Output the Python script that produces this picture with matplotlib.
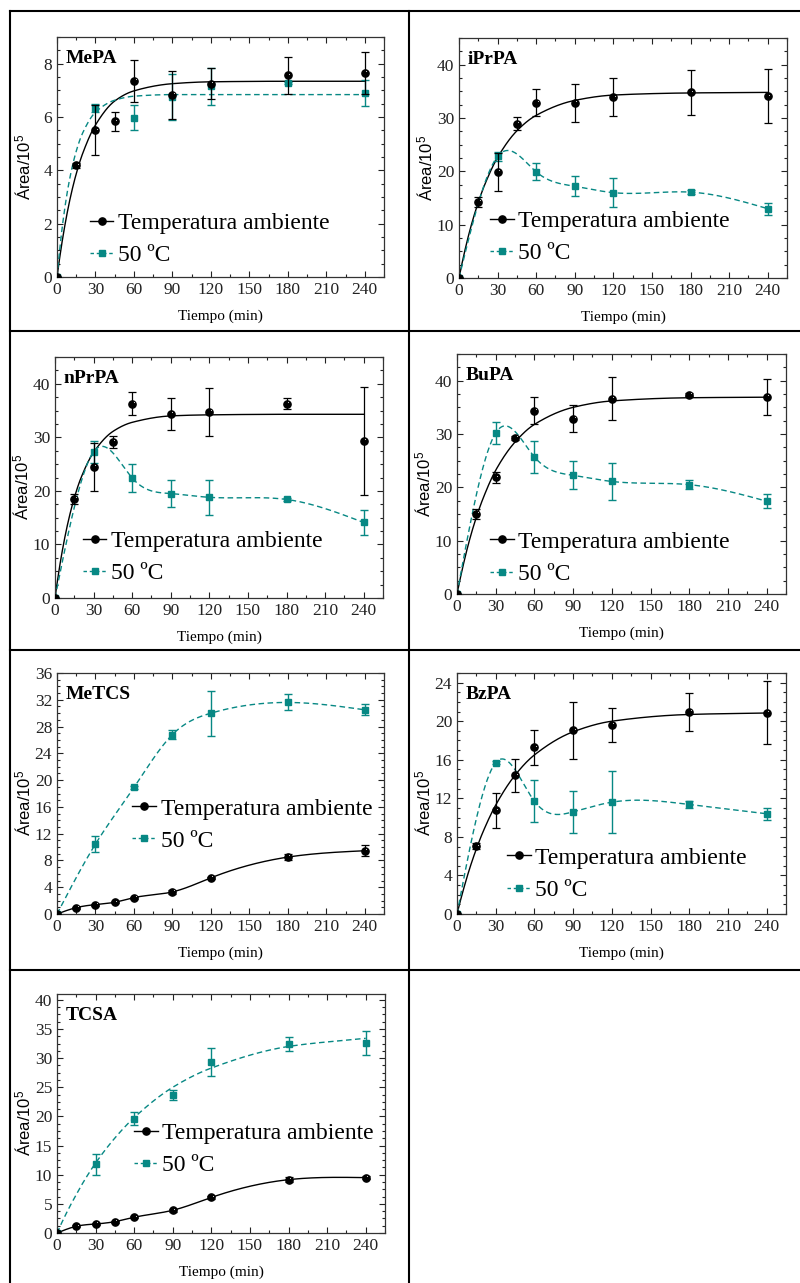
import numpy as np
import matplotlib
matplotlib.use("Agg")
import matplotlib.pyplot as plt
from matplotlib.ticker import MultipleLocator, AutoMinorLocator
from matplotlib.lines import Line2D
from matplotlib.transforms import offset_copy

plt.rcParams['font.family'] = ['Liberation Serif', 'DejaVu Serif']
plt.rcParams['mathtext.fontset'] = 'custom'
plt.rcParams['mathtext.rm'] = 'Liberation Sans'
plt.rcParams['mathtext.it'] = 'Liberation Sans:italic'

TEAL = '#078884'

# ---- sampling times (min) ----
t_amb = [0, 15, 30, 45, 60, 90, 120, 180, 240]
t_50 = [0, 30, 60, 90, 120, 180, 240]
t_fit = [0, 5, 10, 15, 20, 30, 45, 60, 90, 120, 180, 240]

# ---- MePA ----
mepa_amb = [0, 4.19, 5.50, 5.84, 7.35, 6.84, 7.25, 7.56, 7.65]
mepa_amb_err = [0, 0.10, 0.94, 0.35, 0.80, 0.90, 0.58, 0.69, 0.78]
mepa_50 = [0, 6.35, 5.98, 6.75, 7.15, 7.28, 6.91]
mepa_50_err = [0, 0.15, 0.48, 0.88, 0.69, 0.05, 0.49]
mepa_amb_fit = [0, 1.62, 2.89, 3.87, 4.63, 5.70, 6.60, 6.98, 7.25, 7.32, 7.34, 7.34]
mepa_50_fit = [0, 2.21, 3.71, 4.72, 5.40, 6.18, 6.63, 6.78, 6.84, 6.84, 6.84, 6.84]

# ---- iPrPA ----
iprpa_amb = [0, 14.3, 19.9, 28.9, 32.9, 32.8, 33.9, 34.8, 34.1]
iprpa_amb_err = [0, 0.9, 3.6, 1.2, 2.5, 3.5, 3.6, 4.2, 5.1]
iprpa_50 = [0, 22.8, 19.9, 17.2, 16.0, 16.1, 13.0]
iprpa_50_err = [0, 0.8, 1.6, 1.9, 2.7, 0.4, 1.1]
iprpa_amb_fit = [0, 5.6, 10.3, 14.2, 17.5, 22.6, 27.6, 30.5, 33.3, 34.3, 34.7, 34.8]

# ---- nPrPA ----
nprpa_amb = [0, 18.5, 24.5, 29.2, 36.3, 34.4, 34.8, 36.3, 29.3]
nprpa_amb_err = [0, 0.9, 4.5, 1.1, 2.2, 3.0, 4.5, 1.1, 10.1]
nprpa_50 = [0, 27.3, 22.4, 19.5, 18.8, 18.4, 14.1]
nprpa_50_err = [0, 2.0, 2.6, 2.5, 3.3, 0.3, 2.3]
nprpa_amb_fit = [0, 7.9, 14.0, 18.7, 22.3, 27.2, 31.1, 32.8, 34.0, 34.2, 34.3, 34.3]

# ---- BuPA ----
bupa_amb = [0, 15.0, 21.9, 29.25, 34.4, 32.9, 36.6, 37.4, 37.0]
bupa_amb_err = [0, 0.9, 1.0, 0.4, 2.5, 2.6, 4.0, 0.3, 3.4]
bupa_50 = [0, 30.2, 25.7, 22.25, 21.1, 20.5, 17.4]
bupa_50_err = [0, 2.1, 3.0, 2.65, 3.4, 0.85, 1.35]
bupa_amb_fit = [0, 5.6, 10.4, 14.4, 17.8, 23.2, 28.5, 31.8, 35.0, 36.2, 36.8, 36.9]

# ---- MeTCS ----
metcs_amb = [0, 0.95, 1.40, 1.75, 2.45, 3.30, 5.40, 8.50, 9.45]
metcs_amb_err = [0, 0.15, 0.15, 0.15, 0.15, 0.25, 0.20, 0.50, 0.80]
metcs_50 = [0, 10.45, 18.9, 26.8, 30.0, 31.6, 30.5]
metcs_50_err = [0, 1.15, 0.2, 0.65, 3.35, 1.2, 0.8]

# ---- BzPA ----
bzpa_amb = [0, 7.03, 10.77, 14.4, 17.3, 19.05, 19.6, 20.95, 20.9]
bzpa_amb_err = [0, 0.3, 1.8, 1.7, 1.8, 2.95, 1.75, 2.0, 3.25]
bzpa_50 = [0, 15.7, 11.7, 10.6, 11.6, 11.36, 10.4]
bzpa_50_err = [0, 0.15, 2.15, 2.2, 3.2, 0.35, 0.6]
bzpa_amb_fit = [0, 2.55, 4.8, 6.75, 8.47, 11.3, 14.4, 16.5, 18.9, 20.0, 20.7, 20.85]

# ---- TCSA ----
tcsa_amb = [0, 1.15, 1.55, 1.95, 2.7, 3.9, 6.1, 9.15, 9.5]
tcsa_amb_err = [0, 0.15, 0.15, 0.15, 0.2, 0.25, 0.25, 0.45, 0.2]
tcsa_50 = [0, 11.8, 19.6, 23.7, 29.3, 32.4, 32.65]
tcsa_50_err = [0, 1.8, 1.15, 0.85, 2.4, 1.25, 2.05]
tcsa_50_fit = [0, 2.37, 4.57, 6.6, 8.55, 12.0, 16.3, 19.8, 25.0, 28.3, 32.0, 33.4]


def natural_spline(x, y, xs):
    x = np.asarray(x, float); y = np.asarray(y, float)
    n = len(x); h = np.diff(x)
    A = np.zeros((n, n)); r = np.zeros(n)
    A[0, 0] = A[-1, -1] = 1.0
    for i in range(1, n - 1):
        A[i, i - 1] = h[i - 1]; A[i, i] = 2 * (h[i - 1] + h[i]); A[i, i + 1] = h[i]
        r[i] = 3 * ((y[i + 1] - y[i]) / h[i] - (y[i] - y[i - 1]) / h[i - 1])
    c = np.linalg.solve(A, r)
    b = np.diff(y) / h - h * (2 * c[:-1] + c[1:]) / 3
    d = np.diff(c) / (3 * h)
    k = np.clip(np.searchsorted(x, xs, side='right') - 1, 0, n - 2)
    dx = xs - x[k]
    return y[k] + b[k] * dx + c[k] * dx ** 2 + d[k] * dx ** 3


def pchip(x, y, xs):
    x = np.asarray(x, float); y = np.asarray(y, float)
    n = len(x); h = np.diff(x); dl = np.diff(y) / h
    m = np.zeros(n)
    for k in range(1, n - 1):
        if dl[k - 1] * dl[k] <= 0:
            m[k] = 0.0
        else:
            w1 = 2 * h[k] + h[k - 1]; w2 = h[k] + 2 * h[k - 1]
            m[k] = (w1 + w2) / (w1 / dl[k - 1] + w2 / dl[k])
    m0 = ((2 * h[0] + h[1]) * dl[0] - h[0] * dl[1]) / (h[0] + h[1])
    m[0] = m0 if np.sign(m0) == np.sign(dl[0]) else 0.0
    m[-1] = dl[-1] if dl[-1] * dl[-2] > 0 else 0.0
    k = np.clip(np.searchsorted(x, xs, side='right') - 1, 0, n - 2)
    t = (xs - x[k]) / h[k]
    h00 = 2 * t ** 3 - 3 * t ** 2 + 1; h10 = t ** 3 - 2 * t ** 2 + t
    h01 = -2 * t ** 3 + 3 * t ** 2; h11 = t ** 3 - t ** 2
    return h00 * y[k] + h10 * h[k] * m[k] + h01 * y[k + 1] + h11 * h[k] * m[k + 1]


def curve(ax, kind, kx, ky, **kw):
    xs = np.linspace(kx[0], kx[-1], 600)
    ys = natural_spline(kx, ky, xs) if kind == 'spline' else pchip(kx, ky, xs)
    ax.plot(xs, ys, **kw)


fig = plt.figure(figsize=(8, 12.83), dpi=100)
W, H = 800, 1283


def add_axes(x0, x1, y0, y1):
    return fig.add_axes([x0 / W, 1 - y1 / H, (x1 - x0) / W, (y1 - y0) / H])


panels = [
    dict(name='MePA', box=(57, 384, 37, 277), ylim=9, major=2,
         amb=(mepa_amb, mepa_amb_err, 'fit', t_fit, mepa_amb_fit),
         hot=(mepa_50, mepa_50_err, 'fit', t_fit, mepa_50_fit), leg=(0.10, 0.158)),
    dict(name='iPrPA', box=(459, 787, 38, 278), ylim=45, major=10,
         amb=(iprpa_amb, iprpa_amb_err, 'fit', t_fit, iprpa_amb_fit),
         hot=(iprpa_50, iprpa_50_err, 'spline', t_50, iprpa_50), leg=(0.095, 0.169)),
    dict(name='nPrPA', box=(55, 383, 357, 598), ylim=45, major=10,
         amb=(nprpa_amb, nprpa_amb_err, 'fit', t_fit, nprpa_amb_fit),
         hot=(nprpa_50, nprpa_50_err, 'spline', t_50, nprpa_50), leg=(0.085, 0.168)),
    dict(name='BuPA', box=(457, 786, 354, 594), ylim=45, major=10,
         amb=(bupa_amb, bupa_amb_err, 'fit', t_fit, bupa_amb_fit),
         hot=(bupa_50, bupa_50_err, 'spline', t_50, bupa_50), leg=(0.10, 0.15)),
    dict(name='MeTCS', box=(57, 384, 673, 914), ylim=36, major=4,
         amb=(metcs_amb, metcs_amb_err, 'spline', t_amb, metcs_amb),
         hot=(metcs_50, metcs_50_err, 'spline', t_50, metcs_50), leg=(0.23, 0.37)),
    dict(name='BzPA', box=(457, 786, 673, 914), ylim=25, major=4,
         amb=(bzpa_amb, bzpa_amb_err, 'fit', t_fit, bzpa_amb_fit),
         hot=(bzpa_50, bzpa_50_err, 'spline', t_50, bzpa_50), leg=(0.152, 0.166)),
    dict(name='TCSA', box=(57, 385, 994, 1233), ylim=41, major=5,
         amb=(tcsa_amb, tcsa_amb_err, 'spline', t_amb, tcsa_amb),
         hot=(tcsa_50, tcsa_50_err, 'fit', t_fit, tcsa_50_fit), leg=(0.235, 0.35)),
]

for p in panels:
    ax = add_axes(*p['box'])
    ya, ea, ka, cxa, cya = p['amb']
    yb, eb, kb, cxb, cyb = p['hot']
    curve(ax, ka, cxa, cya, color='black', lw=1.0, zorder=2)
    curve(ax, kb, cxb, cyb, color=TEAL, lw=1.0, ls=(0, (4, 2.5)), zorder=2)
    ax.errorbar(t_50, yb, yerr=eb, fmt='s', color=TEAL, ms=4.3, capsize=2.6,
                elinewidth=1.0, capthick=1.0, zorder=3)
    ax.errorbar(t_amb, ya, yerr=ea, fmt='o', color='black', ms=5.2, capsize=2.6,
                elinewidth=0.9, capthick=0.9, zorder=4)
    shine = offset_copy(ax.transData, fig=fig, x=1.6, y=1.6, units='dots')
    ax.plot(t_amb[1:], ya[1:], 'o', color='#dddddd', ms=0.8, mew=0,
            transform=shine, zorder=5)

    ax.set_xlim(0, 255)
    ax.set_ylim(0, p['ylim'])
    ax.xaxis.set_major_locator(MultipleLocator(30))
    ax.xaxis.set_minor_locator(AutoMinorLocator(2))
    ax.yaxis.set_major_locator(MultipleLocator(p['major']))
    ax.yaxis.set_minor_locator(AutoMinorLocator(4))
    ax.tick_params(which='both', direction='in', top=True, right=True,
                   width=0.8, colors='#222222', labelcolor='#222222')
    ax.tick_params(which='major', length=4.5, labelsize=12.5)
    ax.tick_params(which='minor', length=2.5)
    ax.tick_params(axis='x', pad=3.5)
    ax.tick_params(axis='y', pad=3.5)
    for s in ax.spines.values():
        s.set_linewidth(0.9)
        s.set_color('#333333')

    ax.set_xlabel('Tiempo (min)', fontsize=11)
    ax.xaxis.set_label_coords(0.5, -0.135)
    ax.set_ylabel(r'Área/10$^{5}$', fontsize=12, family='Liberation Sans')
    ax.yaxis.set_label_coords(-0.072, 0.46)

    ax.text(0.026, 0.893, p['name'], transform=ax.transAxes, fontsize=14,
            fontweight='bold', va='baseline', ha='left')

    handles = [Line2D([], [], color='black', marker='o', ms=5.2, lw=1.0),
               Line2D([], [], color=TEAL, marker='s', ms=4.3, lw=1.0, ls=(0, (2.5, 2)))]
    ax.legend(handles, ['Temperatura ambiente', '50 ºC'], loc='center left',
              bbox_to_anchor=p['leg'], frameon=False, fontsize=17,
              handlelength=1.0, handletextpad=0.2, borderpad=0, borderaxespad=0,
              labelspacing=0.45)


def rule(x0, y0, x1, y1):
    fig.add_artist(Line2D([x0 / W, x1 / W], [1 - y0 / H, 1 - y1 / H],
                          transform=fig.transFigure, color='black', lw=1.5))


for yy in (11, 331, 650, 970):
    rule(10, yy, 800, yy)
rule(10, 11, 10, 1283)
rule(409, 11, 409, 1283)

fig.savefig('out.png', dpi=100, facecolor='white')
